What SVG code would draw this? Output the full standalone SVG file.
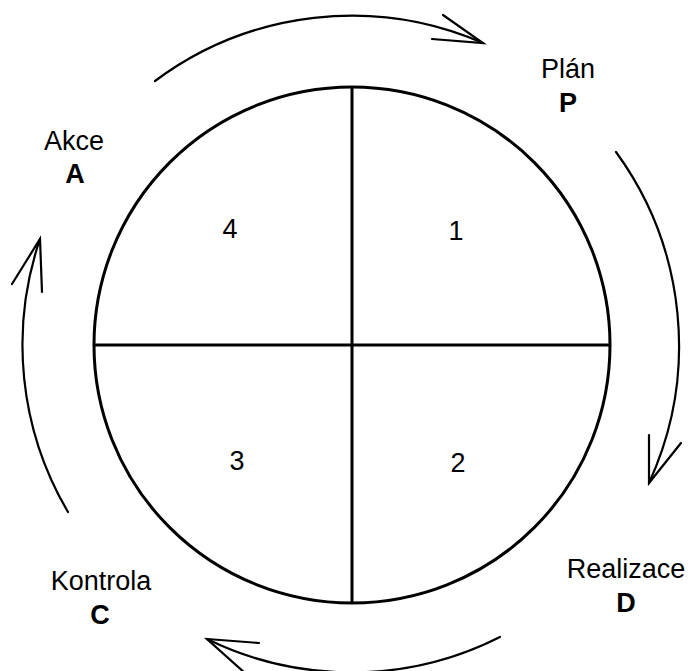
<svg xmlns="http://www.w3.org/2000/svg" width="696" height="671" viewBox="0 0 696 671">
<style>
  .bg{fill:#ffffff}
  .ring{fill:none;stroke:#000;stroke-width:3}
  .div{stroke:#000;stroke-width:3}
  .arc{fill:none;stroke:#000;stroke-width:2.2;stroke-linecap:round}
  .head{fill:none;stroke:#000;stroke-width:2.2;stroke-linecap:round;stroke-linejoin:miter}
  text{font-family:"Liberation Sans",Arial,sans-serif;font-size:27px;fill:#000;text-anchor:middle}
  .b{font-weight:bold}
</style>
<rect class="bg" x="0" y="0" width="696" height="671"/>
<g id="cycle">
  <circle class="ring" cx="352" cy="345" r="258"/>
  <line class="div" x1="352" y1="87" x2="352" y2="603"/>
  <line class="div" x1="94" y1="345" x2="610" y2="345"/>
</g>
<g id="q1"><text x="456" y="240">1</text></g>
<g id="q2"><text x="458" y="472">2</text></g>
<g id="q3"><text x="237" y="470">3</text></g>
<g id="q4"><text x="230" y="238">4</text></g>
<g id="plan"><text x="568" y="78">Plán</text><text class="b" x="568" y="112">P</text></g>
<g id="realizace"><text x="626" y="578">Realizace</text><text class="b" x="626" y="612">D</text></g>
<g id="kontrola"><text x="101" y="590">Kontrola</text><text class="b" x="100" y="624">C</text></g>
<g id="akce"><text x="74" y="150">Akce</text><text class="b" x="75" y="183">A</text></g>
<g id="connectors">
  <path class="arc" d="M155,81 A329,329 0 0 1 483,43"/>
  <polyline class="head" points="443,15 483,43 432,39"/>
  <path class="arc" d="M616,152 A329,329 0 0 1 649,483"/>
  <polyline class="head" points="649,435 649,483 681,443"/>
  <path class="arc" d="M500,637 A329,329 0 0 1 207,639"/>
  <polyline class="head" points="259,643 207,639 246,674"/>
  <path class="arc" d="M68,512 A329,329 0 0 1 40,239"/>
  <polyline class="head" points="12,284 40,239 42,292"/>
</g>
</svg>
